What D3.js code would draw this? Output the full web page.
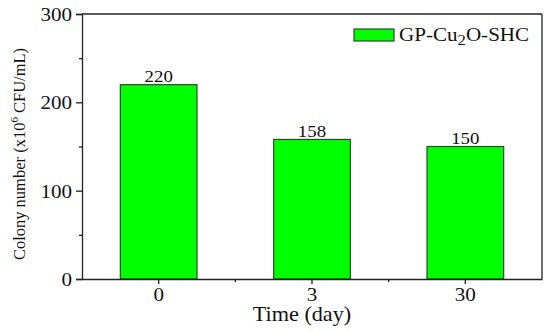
<!DOCTYPE html>
<html><head><meta charset="utf-8">
<script src="https://cdn.jsdelivr.net/npm/d3@7"></script>
<style>body{margin:0;background:#fff}text{font-family:"Liberation Serif","Times New Roman",serif;fill:#111}</style>
</head><body><svg id="c" width="550" height="332"></svg>
<script>
const categories = ["0","3","30"];
const values = [220,158,150];
const seriesName = "GP-Cu2O-SHC";
const yTicks = [0,100,200,300];
const yMinorTicks = [50,150,250];

const S = 1.11; // horizontal stretch of the reference's lettering
function stretch(sel){
  sel.each(function(){
    const t = d3.select(this);
    const xx = +t.attr("x")||0, yy = +t.attr("y")||0;
    t.attr("x",0).attr("y",0).attr("transform",`translate(${xx},${yy}) scale(${S},1)`);
  });
}

const svg = d3.select("#c");
const m = {l:82, r:542, t:14, b:279};
const x = d3.scaleBand().domain(categories).range([m.l,m.r]).paddingInner(0.5).paddingOuter(0.25);
const y = d3.scaleLinear().domain([0,300]).range([m.b,m.t]);
const ax = "#222";

// bars
svg.selectAll("rect.bar").data(values).join("rect")
  .attr("x",(d,i)=>x(categories[i])).attr("width",x.bandwidth())
  .attr("y",d=>y(d)).attr("height",d=>y(0)-y(d))
  .attr("fill","#00ff00").attr("stroke","#2b4a2b").attr("stroke-width",1.2);

// value labels
svg.selectAll("text.val").data(values).join("text")
  .attr("x",(d,i)=>x(categories[i])+x.bandwidth()/2).attr("y",d=>y(d)-2.5)
  .attr("text-anchor","middle").attr("font-size",17).text(d=>d)
  .call(stretch);

// frame top/right
svg.append("line").attr("x1",m.l).attr("x2",m.r).attr("y1",m.t).attr("y2",m.t).attr("stroke",ax).attr("stroke-width",1.3);
svg.append("line").attr("x1",m.r).attr("x2",m.r).attr("y1",m.t).attr("y2",m.b).attr("stroke",ax).attr("stroke-width",1.3);

// y axis
const yAxis = svg.append("g").attr("transform",`translate(${m.l},0)`)
  .call(d3.axisLeft(y).tickValues(yTicks).tickSize(6).tickPadding(4));
yAxis.select(".domain").attr("stroke",ax).attr("stroke-width",1.3);
yAxis.selectAll(".tick line").attr("stroke",ax).attr("stroke-width",1.3);
yAxis.selectAll(".tick text").attr("font-size",19).attr("font-family","Liberation Serif").attr("fill","#111")
  .attr("dy",null).attr("dominant-baseline","central").call(stretch);
svg.append("g").attr("transform",`translate(${m.l},0)`)
  .call(d3.axisLeft(y).tickValues(yMinorTicks).tickSize(3).tickFormat(""))
  .call(g=>{g.select(".domain").remove();g.selectAll("line").attr("stroke",ax).attr("stroke-width",1.3);});

// x axis
const xAxis = svg.append("g").attr("transform",`translate(0,${m.b})`)
  .call(d3.axisBottom(x).tickSize(5).tickPadding(3).tickSizeOuter(0));
xAxis.select(".domain").attr("stroke",ax).attr("stroke-width",1.3);
xAxis.selectAll(".tick line").attr("stroke",ax).attr("stroke-width",1.3);
xAxis.selectAll(".tick text").attr("font-size",19).attr("font-family","Liberation Serif").attr("fill","#111")
  .each(function(){d3.select(this).attr("y",8).attr("dy",null).attr("dominant-baseline","hanging");})
  .call(stretch);
// minor x ticks between categories
const mids = categories.slice(0,-1).map((c,i)=>(x(c)+x(categories[i+1]))/2 + x.bandwidth()/2);
svg.selectAll("line.mx").data(mids).join("line")
  .attr("x1",d=>d).attr("x2",d=>d).attr("y1",m.b).attr("y2",m.b+3).attr("stroke",ax).attr("stroke-width",1.3);

// axis titles
svg.append("text").attr("x",302).attr("y",321).attr("text-anchor","middle")
  .attr("font-size",20).text("Time (day)").call(stretch);
const yt = svg.append("text").attr("transform","translate(25,154) rotate(-90)").attr("text-anchor","middle").attr("font-size",16.5);
yt.append("tspan").text("Colony number (x10");
yt.append("tspan").attr("font-size",11).attr("dy",-7).text("6");
yt.append("tspan").attr("dy",7).text(" CFU/mL)");

// legend
svg.append("rect").attr("x",354).attr("y",29).attr("width",40).attr("height",12)
  .attr("fill","#00ff00").attr("stroke","#2b4a2b").attr("stroke-width",1.2);
const lt = svg.append("text").attr("x",399).attr("y",41).attr("font-size",19);
const parts = seriesName.split("2");
lt.append("tspan").text(parts[0]);
lt.append("tspan").attr("dy",4).attr("font-size",15).text("2");
lt.append("tspan").attr("dy",-4).text(parts[1]);
lt.call(stretch);
</script></body></html>
